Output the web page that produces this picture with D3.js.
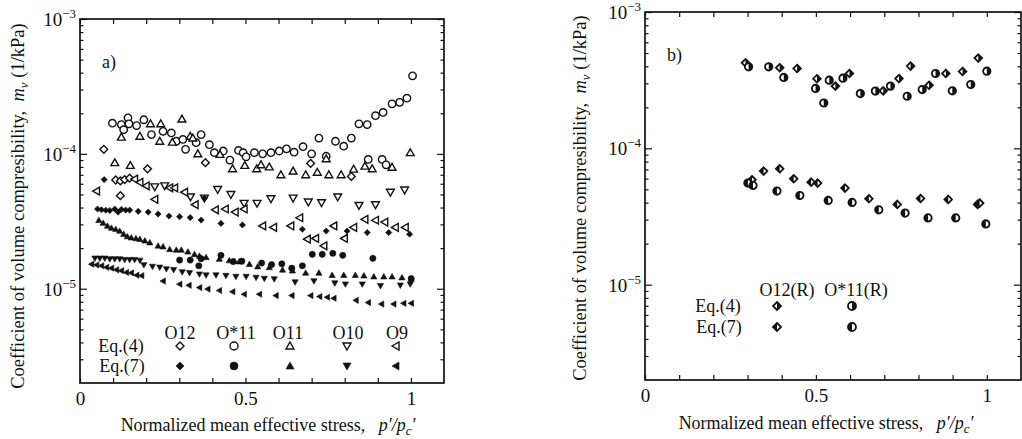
<!DOCTYPE html>
<html>
<head>
<meta charset="utf-8">
<script src="https://cdn.jsdelivr.net/npm/d3@7"></script>
<style>
  body { margin: 0; background: #fff; }
  svg text { font-family: "Liberation Serif", "Times New Roman", serif; fill: #111; }
</style>
</head>
<body>
<svg id="chart" width="1022" height="439"></svg>
<script>
// ---- data: [p'/pc', mv (1/kPa)] ----
// panel a) Eq.(4) open symbols
const o12Eq4 = [[0.072,1.08e-4],[0.108,6.4e-5],[0.122,6.3e-5],[0.135,6.45e-5],[0.150,6.6e-5],[0.122,4.9e-5],[0.204,7.75e-5],[0.379,8.6e-5],[0.697,8.5e-5],[0.820,6.8e-5]];
const o11sEq4 = [[0.098,1.69e-4],[0.125,1.65e-4],[0.132,1.51e-4],[0.145,1.85e-4],[0.148,1.67e-4],[0.171,1.62e-4],[0.193,1.79e-4],[0.216,1.39e-4],[0.251,1.47e-4],[0.276,1.43e-4],[0.291,1.24e-4],[0.311,1.28e-4],[0.319,1.08e-4],[0.351,1.21e-4],[0.366,1.39e-4],[0.391,1.17e-4],[0.406,1.02e-4],[0.433,1.05e-4],[0.453,9.0e-5],[0.479,1.06e-4],[0.493,1.02e-4],[0.502,9.5e-5],[0.527,1.02e-4],[0.552,1.0e-4],[0.577,1.02e-4],[0.602,1.05e-4],[0.624,1.09e-4],[0.647,1.03e-4],[0.674,1.13e-4],[0.700,1.0e-4],[0.722,1.31e-4],[0.744,9.6e-5],[0.772,1.24e-4],[0.797,1.14e-4],[0.820,1.31e-4],[0.843,1.67e-4],[0.868,1.65e-4],[0.871,9.1e-5],[0.893,1.92e-4],[0.913,9.1e-5],[0.916,2.03e-4],[0.925,8.3e-5],[0.943,2.35e-4],[0.966,2.41e-4],[0.988,2.59e-4],[1.005,3.79e-4]];
const o11Eq4 = [[0.105,8.6e-5],[0.125,1.33e-4],[0.152,8.2e-5],[0.181,1.35e-4],[0.213,1.67e-4],[0.241,1.24e-4],[0.244,1.67e-4],[0.279,1.22e-4],[0.308,1.81e-4],[0.333,1.35e-4],[0.341,1.31e-4],[0.356,1.0e-4],[0.423,9.9e-5],[0.461,7.75e-5],[0.498,8.2e-5],[0.534,7.75e-5],[0.547,8.3e-5],[0.572,8.0e-5],[0.607,7.0e-5],[0.644,7.45e-5],[0.682,7.0e-5],[0.717,7.3e-5],[0.744,9.2e-5],[0.752,7.0e-5],[0.789,7.0e-5],[0.827,7.7e-5],[0.861,8.1e-5],[0.883,7.75e-5],[0.943,7.95e-5],[0.998,1.02e-4]];
const o10Eq4 = [[0.226,5.7e-5],[0.256,5.8e-5],[0.334,4.8e-5],[0.376,4.7e-5],[0.416,5.45e-5],[0.456,5.0e-5],[0.496,4.3e-5],[0.535,4.3e-5],[0.577,4.65e-5],[0.644,4.7e-5],[0.690,4.4e-5],[0.730,4.35e-5],[0.779,4.8e-5],[0.843,4.15e-5],[0.893,4.2e-5],[0.938,5.2e-5],[0.981,5.4e-5]];
const o9Eq4 = [[0.050,5.3e-5],[0.165,6.5e-5],[0.181,6.15e-5],[0.200,5.8e-5],[0.226,4.6e-5],[0.271,5.6e-5],[0.286,5.6e-5],[0.316,5.2e-5],[0.348,4.2e-5],[0.409,3.85e-5],[0.439,3.9e-5],[0.469,3.7e-5],[0.496,3.9e-5],[0.552,2.92e-5],[0.585,2.85e-5],[0.637,2.92e-5],[0.664,3.36e-5],[0.687,2.33e-5],[0.712,2.36e-5],[0.737,2.08e-5],[0.767,2.92e-5],[0.799,2.36e-5],[0.827,2.85e-5],[0.861,3.27e-5],[0.893,3.22e-5],[0.921,3.12e-5],[0.953,2.85e-5],[0.983,2.85e-5]];
// panel a) Eq.(7) solid symbols
const o12Eq7 = [[0.053,3.9e-5],[0.065,3.85e-5],[0.073,6.45e-5],[0.078,3.82e-5],[0.090,3.8e-5],[0.105,3.9e-5],[0.115,3.7e-5],[0.125,3.87e-5],[0.138,3.83e-5],[0.150,3.83e-5],[0.176,3.75e-5],[0.206,3.7e-5],[0.236,3.58e-5],[0.269,3.46e-5],[0.301,3.42e-5],[0.333,3.37e-5],[0.366,3.23e-5],[0.376,4.7e-5],[0.426,3.05e-5],[0.491,2.97e-5],[0.672,2.76e-5],[0.744,2.68e-5],[0.807,2.68e-5],[0.868,2.61e-5],[0.933,2.61e-5],[0.996,2.54e-5]];
const o11sEq7 = [[0.301,1.63e-5],[0.333,1.63e-5],[0.359,1.48e-5],[0.366,1.67e-5],[0.426,1.77e-5],[0.463,1.59e-5],[0.489,1.6e-5],[0.549,1.55e-5],[0.579,1.51e-5],[0.610,1.53e-5],[0.640,1.42e-5],[0.672,1.48e-5],[0.702,1.8e-5],[0.732,1.8e-5],[0.764,1.83e-5],[0.794,1.77e-5],[0.885,1.68e-5],[1.001,1.19e-5]];
const o11Eq7 = [[0.057,3.22e-5],[0.070,3.07e-5],[0.083,2.92e-5],[0.095,2.82e-5],[0.108,2.76e-5],[0.120,2.68e-5],[0.132,2.54e-5],[0.143,2.44e-5],[0.155,2.39e-5],[0.169,2.36e-5],[0.181,2.33e-5],[0.196,2.27e-5],[0.211,2.2e-5],[0.236,2.08e-5],[0.251,2.05e-5],[0.271,1.96e-5],[0.291,1.94e-5],[0.306,1.94e-5],[0.326,1.88e-5],[0.346,1.8e-5],[0.361,1.75e-5],[0.381,1.71e-5],[0.421,1.66e-5],[0.451,1.62e-5],[0.466,1.6e-5],[0.481,1.59e-5],[0.512,1.52e-5],[0.537,1.46e-5],[0.572,1.44e-5],[0.612,1.38e-5],[0.642,1.36e-5],[0.682,1.31e-5],[0.722,1.31e-5],[0.762,1.26e-5],[0.797,1.26e-5],[0.832,1.26e-5],[0.858,1.25e-5],[0.888,1.23e-5],[0.918,1.23e-5],[0.943,1.23e-5],[0.973,1.21e-5],[1.001,1.18e-5]];
const o10Eq7 = [[0.045,1.68e-5],[0.060,1.68e-5],[0.075,1.68e-5],[0.090,1.66e-5],[0.105,1.66e-5],[0.120,1.66e-5],[0.135,1.64e-5],[0.150,1.64e-5],[0.165,1.64e-5],[0.181,1.62e-5],[0.193,1.5e-5],[0.219,1.46e-5],[0.241,1.44e-5],[0.261,1.4e-5],[0.283,1.38e-5],[0.309,1.33e-5],[0.331,1.31e-5],[0.361,1.28e-5],[0.381,1.26e-5],[0.411,1.26e-5],[0.441,1.25e-5],[0.471,1.23e-5],[0.502,1.23e-5],[0.532,1.21e-5],[0.557,1.19e-5],[0.587,1.18e-5],[0.650,1.12e-5],[0.707,1.14e-5],[0.770,1.1e-5],[0.802,1.08e-5],[0.853,1.08e-5],[0.908,1.05e-5],[0.968,1.06e-5],[0.998,1.08e-5]];
const o9Eq7 = [[0.035,1.52e-5],[0.050,1.5e-5],[0.065,1.48e-5],[0.080,1.44e-5],[0.095,1.42e-5],[0.110,1.38e-5],[0.125,1.36e-5],[0.140,1.32e-5],[0.155,1.31e-5],[0.171,1.26e-5],[0.186,1.25e-5],[0.251,1.14e-5],[0.301,1.08e-5],[0.329,1.06e-5],[0.361,1.02e-5],[0.386,9.95e-6],[0.421,9.7e-6],[0.461,9.5e-6],[0.496,9.1e-6],[0.542,9.1e-6],[0.592,8.9e-6],[0.640,8.9e-6],[0.697,8.9e-6],[0.724,8.75e-6],[0.747,8.65e-6],[0.767,8.5e-6],[0.834,8.2e-6],[0.871,7.9e-6],[0.911,7.7e-6],[0.948,7.7e-6],[0.978,7.8e-6],[1.001,7.8e-6]];
// panel b) remoulded samples
const o12rEq4 = [[0.294,4.24e-4],[0.394,3.9e-4],[0.445,3.85e-4],[0.503,3.24e-4],[0.557,2.86e-4],[0.598,3.54e-4],[0.697,2.64e-4],[0.743,3.25e-4],[0.777,4.01e-4],[0.831,2.9e-4],[0.880,3.54e-4],[0.929,3.66e-4],[0.975,4.59e-4]];
const o11rEq4 = [[0.303,3.96e-4],[0.362,3.96e-4],[0.406,3.31e-4],[0.499,2.75e-4],[0.523,2.15e-4],[0.539,3.16e-4],[0.579,3.27e-4],[0.630,2.52e-4],[0.674,2.63e-4],[0.718,2.86e-4],[0.767,2.41e-4],[0.811,2.7e-4],[0.850,3.54e-4],[0.899,2.64e-4],[0.953,2.94e-4],[1.0,3.68e-4]];
const o12rEq7 = [[0.313,5.88e-5],[0.347,6.81e-5],[0.394,7.08e-5],[0.435,5.98e-5],[0.486,5.65e-5],[0.505,5.56e-5],[0.585,5.11e-5],[0.655,4.27e-5],[0.738,3.88e-5],[0.806,4.29e-5],[0.887,4.22e-5],[0.973,3.88e-5],[0.979,3.97e-5]];
const o11rEq7 = [[0.301,5.56e-5],[0.316,5.35e-5],[0.386,4.86e-5],[0.453,4.51e-5],[0.536,4.15e-5],[0.606,4.01e-5],[0.684,3.54e-5],[0.761,3.35e-5],[0.828,3.09e-5],[0.909,3.09e-5],[0.997,2.79e-5]];

// axes
const xDomain = [0, 1.1];
const yDomain = [2e-6, 1e-3];
const xTickValues = [0,0.1,0.2,0.3,0.4,0.5,0.6,0.7,0.8,0.9,1.0];
const xTickLabels = {0: "0", 0.5: "0.5", 1: "1"};
const yMajor = [1e-5, 1e-4, 1e-3];
const yMajorExp = ["\u22125", "\u22124", "\u22123"];
const yMinor = [3e-6,4e-6,5e-6,6e-6,7e-6,8e-6,9e-6,2e-5,3e-5,4e-5,5e-5,6e-5,7e-5,8e-5,9e-5,2e-4,3e-4,4e-4,5e-4,6e-4,7e-4,8e-4,9e-4];

const svg = d3.select("#chart");

function shapePath(type, r) {
  if (type === "diamond") return `M0,${-r}L${r},0L0,${r}L${-r},0Z`;
  if (type === "up") return `M0,${-r}L${r},${r*0.75}L${-r},${r*0.75}Z`;
  if (type === "down") return `M0,${r}L${r},${-r*0.75}L${-r},${-r*0.75}Z`;
  if (type === "left") return `M${-r},0L${r*0.75},${-r}L${r*0.75},${r}Z`;
  return d3.arc()({innerRadius: 0, outerRadius: r, startAngle: 0, endAngle: 2 * Math.PI});
}
function halfPath(type, r, side) {
  const s = side === "right" ? 1 : -1;
  if (type === "diamond") return `M0,${-r}L${s*r},0L0,${r}Z`;
  return `M0,${-r}A${r},${r} 0 0 ${s > 0 ? 1 : 0} 0,${r}Z`;
}

function drawMarker(g, type, style, r, cx, cy) {
  const m = g.append("g").attr("transform", `translate(${cx},${cy})`);
  if (style === "open") {
    m.append("path").attr("d", shapePath(type, r)).attr("fill", "#fff").attr("stroke", "#111").attr("stroke-width", 1.4);
  } else if (style === "solid") {
    m.append("path").attr("d", shapePath(type, r)).attr("fill", "#111").attr("stroke", "#111").attr("stroke-width", 0.6);
  } else {
    m.append("path").attr("d", shapePath(type, r)).attr("fill", "#fff").attr("stroke", "#111").attr("stroke-width", 1.8);
    m.append("path").attr("d", halfPath(type, r, style)).attr("fill", "#111");
  }
}

function drawPanel(box, series, legend, tag, titleX, titleY) {
  const x = d3.scaleLinear().domain(xDomain).range([box.left, box.right]);
  const y = d3.scaleLog().domain(yDomain).range([box.bottom, box.top]);
  const g = svg.append("g");

  // ticks (inward)
  g.append("g").attr("transform", `translate(0,${box.bottom})`)
    .call(d3.axisBottom(x).tickValues(xTickValues).tickSize(-5).tickSizeOuter(0).tickPadding(9)
      .tickFormat(d => xTickLabels[Math.round(d * 10) / 10] || ""));
  g.append("g").attr("transform", `translate(0,${box.top})`)
    .call(d3.axisTop(x).tickValues(xTickValues).tickSize(-5).tickSizeOuter(0).tickFormat(""));
  [[d3.axisLeft, box.left], [d3.axisRight, box.right]].forEach(([ax, pos]) => {
    g.append("g").attr("transform", `translate(${pos},0)`)
      .call(ax(y).tickValues(yMajor).tickSize(-7).tickSizeOuter(0).tickFormat(""));
    g.append("g").attr("transform", `translate(${pos},0)`)
      .call(ax(y).tickValues(yMinor).tickSize(-3.5).tickSizeOuter(0).tickFormat(""));
  });
  g.selectAll(".domain").remove();
  g.selectAll(".tick line").attr("stroke", "#111").attr("stroke-width", 1.2);
  g.selectAll(".tick text").attr("font-size", 19).attr("fill", "#111")
    .attr("font-family", "Liberation Serif, serif");

  g.append("rect").attr("x", box.left).attr("y", box.top)
    .attr("width", box.right - box.left).attr("height", box.bottom - box.top)
    .attr("fill", "none").attr("stroke", "#111").attr("stroke-width", 1.7);

  // y tick labels 10^n
  yMajor.forEach((v, i) => {
    const t = g.append("text").attr("x", box.left - 4).attr("y", y(v) + 7)
      .attr("text-anchor", "end").attr("font-size", 19);
    t.append("tspan").text("10");
    t.append("tspan").attr("dy", -8).attr("font-size", 13).text(yMajorExp[i]);
  });

  // data
  series.forEach(s => {
    s.data.forEach(d => drawMarker(g, s.shape, s.style, s.r, x(d[0]), y(d[1])));
  });

  // panel tag
  g.append("text").attr("x", box.left + 22).attr("y", box.top + 49).attr("font-size", 18).text(tag);

  // legend
  legend.heads.forEach(h => g.append("text").attr("x", h.x).attr("y", legend.headY)
    .attr("text-anchor", "middle").attr("font-size", 18).text(h.label));
  legend.rows.forEach(row => {
    g.append("text").attr("x", row.textX).attr("y", row.y + 6).attr("text-anchor", "middle")
      .attr("font-size", 18).text(row.label);
    row.marks.forEach(mk => drawMarker(g, mk.shape, mk.style, mk.r, mk.x, row.y));
  });

  // axis titles
  const xt = g.append("text").attr("x", titleX.x).attr("y", titleX.y).attr("text-anchor", "middle").attr("font-size", 18);
  xt.append("tspan").text("Normalized mean effective stress,\u00a0\u00a0\u00a0");
  xt.append("tspan").attr("font-style", "italic").text("p\u2032/p");
  xt.append("tspan").attr("font-style", "italic").attr("font-size", 13).attr("dy", 4).text("c");
  xt.append("tspan").attr("font-style", "italic").attr("dy", -4).text("\u2032");

  const yt = g.append("text").attr("transform", `translate(${titleY.x},${titleY.y}) rotate(-90)`)
    .attr("text-anchor", "middle").attr("font-size", 18.5);
  yt.append("tspan").text("Coefficient of volume compresibility,\u00a0\u00a0");
  yt.append("tspan").attr("font-style", "italic").text("m");
  yt.append("tspan").attr("font-style", "italic").attr("font-size", 13).attr("dy", 4).text("v");
  yt.append("tspan").attr("dy", -4).text("\u00a0(1/kPa)");
}

drawPanel(
  {left: 80, right: 444, top: 19, bottom: 383},
  [
    {data: o11sEq4, shape: "circle", style: "open", r: 3.7},
    {data: o12Eq4, shape: "diamond", style: "open", r: 3.9},
    {data: o11Eq4, shape: "up", style: "open", r: 3.9},
    {data: o10Eq4, shape: "down", style: "open", r: 3.9},
    {data: o9Eq4, shape: "left", style: "open", r: 3.9},
    {data: o12Eq7, shape: "diamond", style: "solid", r: 3.1},
    {data: o11sEq7, shape: "circle", style: "solid", r: 3.1},
    {data: o11Eq7, shape: "up", style: "solid", r: 3.1},
    {data: o10Eq7, shape: "down", style: "solid", r: 3.1},
    {data: o9Eq7, shape: "left", style: "solid", r: 3.1}
  ],
  {
    headY: 339,
    heads: [{x: 180, label: "O12"}, {x: 236, label: "O*11"}, {x: 288, label: "O11"}, {x: 348, label: "O10"}, {x: 397, label: "O9"}],
    rows: [
      {label: "Eq.(4)", textX: 121, y: 346, marks: [
        {x: 180, shape: "diamond", style: "open", r: 4}, {x: 234, shape: "circle", style: "open", r: 4},
        {x: 290, shape: "up", style: "open", r: 4}, {x: 347, shape: "down", style: "open", r: 4},
        {x: 396, shape: "left", style: "open", r: 4}]},
      {label: "Eq.(7)", textX: 122, y: 366, marks: [
        {x: 180, shape: "diamond", style: "solid", r: 4}, {x: 234, shape: "circle", style: "solid", r: 4},
        {x: 290, shape: "up", style: "solid", r: 4}, {x: 347, shape: "down", style: "solid", r: 4},
        {x: 396, shape: "left", style: "solid", r: 4}]}
    ]
  },
  "a)",
  {x: 268, y: 431},
  {x: 24, y: 206}
);

drawPanel(
  {left: 645, right: 1021, top: 12, bottom: 380},
  [
    {data: o12rEq4, shape: "diamond", style: "right", r: 3.8},
    {data: o11rEq4, shape: "circle", style: "right", r: 3.7},
    {data: o12rEq7, shape: "diamond", style: "left", r: 3.8},
    {data: o11rEq7, shape: "circle", style: "left", r: 3.7}
  ],
  {
    headY: 296,
    heads: [{x: 787, label: "O12(R)"}, {x: 856, label: "O*11(R)"}],
    rows: [
      {label: "Eq.(4)", textX: 718, y: 306, marks: [
        {x: 777, shape: "diamond", style: "right", r: 4}, {x: 852, shape: "circle", style: "right", r: 4}]},
      {label: "Eq.(7)", textX: 719, y: 327, marks: [
        {x: 777, shape: "diamond", style: "left", r: 4}, {x: 852, shape: "circle", style: "left", r: 4}]}
    ]
  },
  "b)",
  {x: 826, y: 429},
  {x: 586, y: 198}
);
</script>
</body>
</html>
